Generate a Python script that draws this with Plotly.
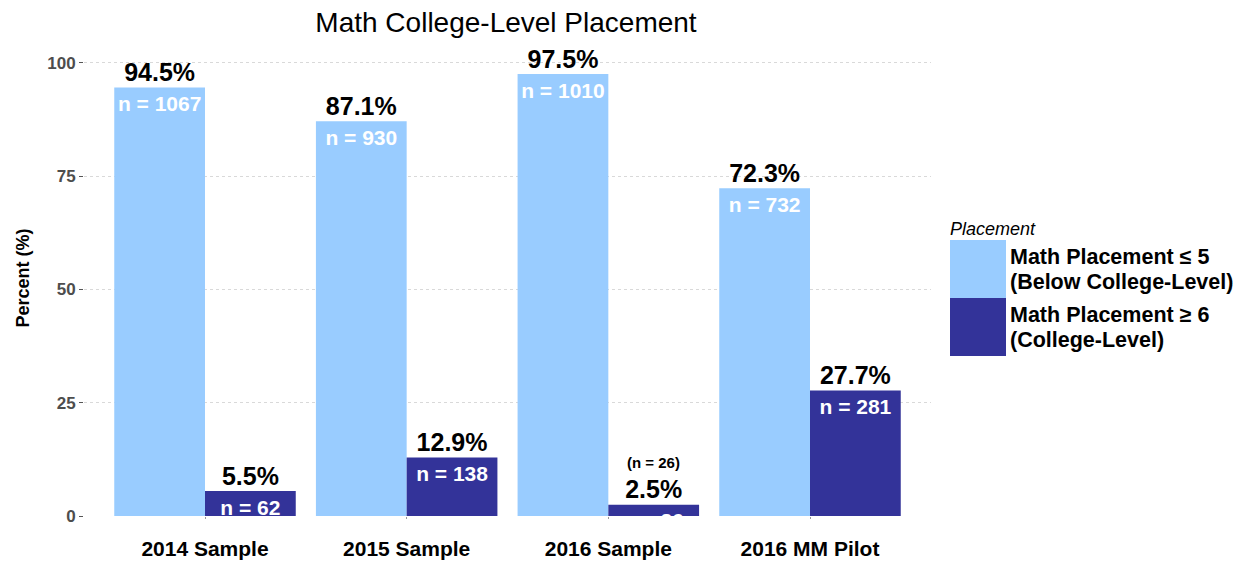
import plotly.graph_objects as go

categories = ["2014 Sample", "2015 Sample", "2016 Sample", "2016 MM Pilot"]
below_pct = [94.5, 87.1, 97.5, 72.3]
below_n = [1067, 930, 1010, 732]
college_pct = [5.5, 12.9, 2.5, 27.7]
college_n = [62, 138, 26, 281]
series_lines = [["Math Placement ≤ 5", "(Below College-Level)"], ["Math Placement ≥ 6", "(College-Level)"]]
colors = ["#99CCFF", "#333399"]
yticks = [0, 25, 50, 75, 100]

FONT = "Liberation Sans, Arial, sans-serif"
W, H = 1243, 567
L, R, T, B = 84, 312, 40, 51
PW, PH = W - L - R, H - T - B
YMAX = 105
UNIT = PH / YMAX  # pixels per percent

def px_x(px):
    return (px - L) / PW

def px_y(py):
    return (H - B - py) / PH

idx = list(range(len(categories)))
bw = 0.45

fig = go.Figure()
for k, (vals, ns) in enumerate([(below_pct, below_n), (college_pct, college_n)]):
    off = -bw if k == 0 else 0.0
    centers = [i + off + bw / 2 for i in idx]
    fig.add_trace(go.Bar(x=idx, y=vals, offset=off, width=bw, marker=dict(color=colors[k], line=dict(width=0)),
                         showlegend=False, hoverinfo="skip"))
    # percent labels above bars
    fig.add_trace(go.Scatter(x=centers, y=vals, mode="text", text=[f"{v:.1f}%" for v in vals],
                             textposition="top center", cliponaxis=False,
                             textfont=dict(family=FONT, size=25, color="black", weight="bold"),
                             showlegend=False, hoverinfo="skip"))
    # n labels inside bars (clipped at axis)
    fig.add_trace(go.Scatter(x=centers, y=[v - 8 / UNIT for v in vals], mode="text",
                             text=[f"n = {n}" for n in ns],
                             textposition="bottom center", cliponaxis=True,
                             textfont=dict(family=FONT, size=21, color="white", weight="bold"),
                             showlegend=False, hoverinfo="skip"))
    # small-bar note
    for c, v, n in zip(centers, vals, ns):
        if v < 4:
            fig.add_annotation(x=c, y=v, xref="x", yref="y", text=f"<b>(n = {n})</b>", showarrow=False,
                               yshift=42, font=dict(family=FONT, size=15, color="black"))

fig.update_layout(
    width=W, height=H,
    margin=dict(l=L, r=R, t=T, b=B, autoexpand=False),
    plot_bgcolor="white", paper_bgcolor="white",
    title=dict(text="Math College-Level Placement", x=506 / W, xanchor="center", xref="container",
               y=1 - 22 / H, yanchor="middle", yref="container",
               font=dict(family=FONT, size=28, color="black")),
    xaxis=dict(range=[-0.6, 3.6], tickvals=idx, ticktext=categories, showgrid=False, zeroline=False,
               ticks="outside", ticklen=2, tickcolor="#999999", showline=False, automargin=False,
               ticklabelstandoff=12,
               tickfont=dict(family=FONT, size=21, color="black", weight="bold")),
    yaxis=dict(range=[0, YMAX], tickvals=yticks, showgrid=True, gridcolor="#D9D9D9", griddash="dot",
               gridwidth=1, zeroline=False, ticks="outside", ticklen=4, tickcolor="#555555", automargin=False,
               tickfont=dict(family=FONT, size=17, color="#4D4D4D", weight="bold"),
               title=dict(text="Percent (%)", font=dict(family=FONT, size=18, color="black", weight="bold"), standoff=12)),
    showlegend=False,
)

# legend drawn manually
fig.add_annotation(xref="paper", yref="paper", x=px_x(948), y=px_y(229), text="<i>Placement</i>",
                   showarrow=False, xanchor="left", yanchor="middle",
                   font=dict(family=FONT, size=18, color="black"))
box_tops = [240, 298]
for k in range(2):
    y0, y1 = box_tops[k], box_tops[k] + 58
    fig.add_shape(type="rect", xref="paper", yref="paper", x0=px_x(950), x1=px_x(1006),
                  y0=px_y(y1), y1=px_y(y0), fillcolor=colors[k], line=dict(width=0))
    mid = (y0 + y1) / 2
    for j, line in enumerate(series_lines[k]):
        fig.add_annotation(xref="paper", yref="paper", x=px_x(1008), y=px_y(mid - 12.5 + 25 * j),
                           text=f"<b>{line}</b>", showarrow=False, xanchor="left", yanchor="middle",
                           align="left", font=dict(family=FONT, size=21.5, color="black"))

fig.write_html("out.html", config={"displayModeBar": False},
               post_script="document.body.style.margin='0';")
